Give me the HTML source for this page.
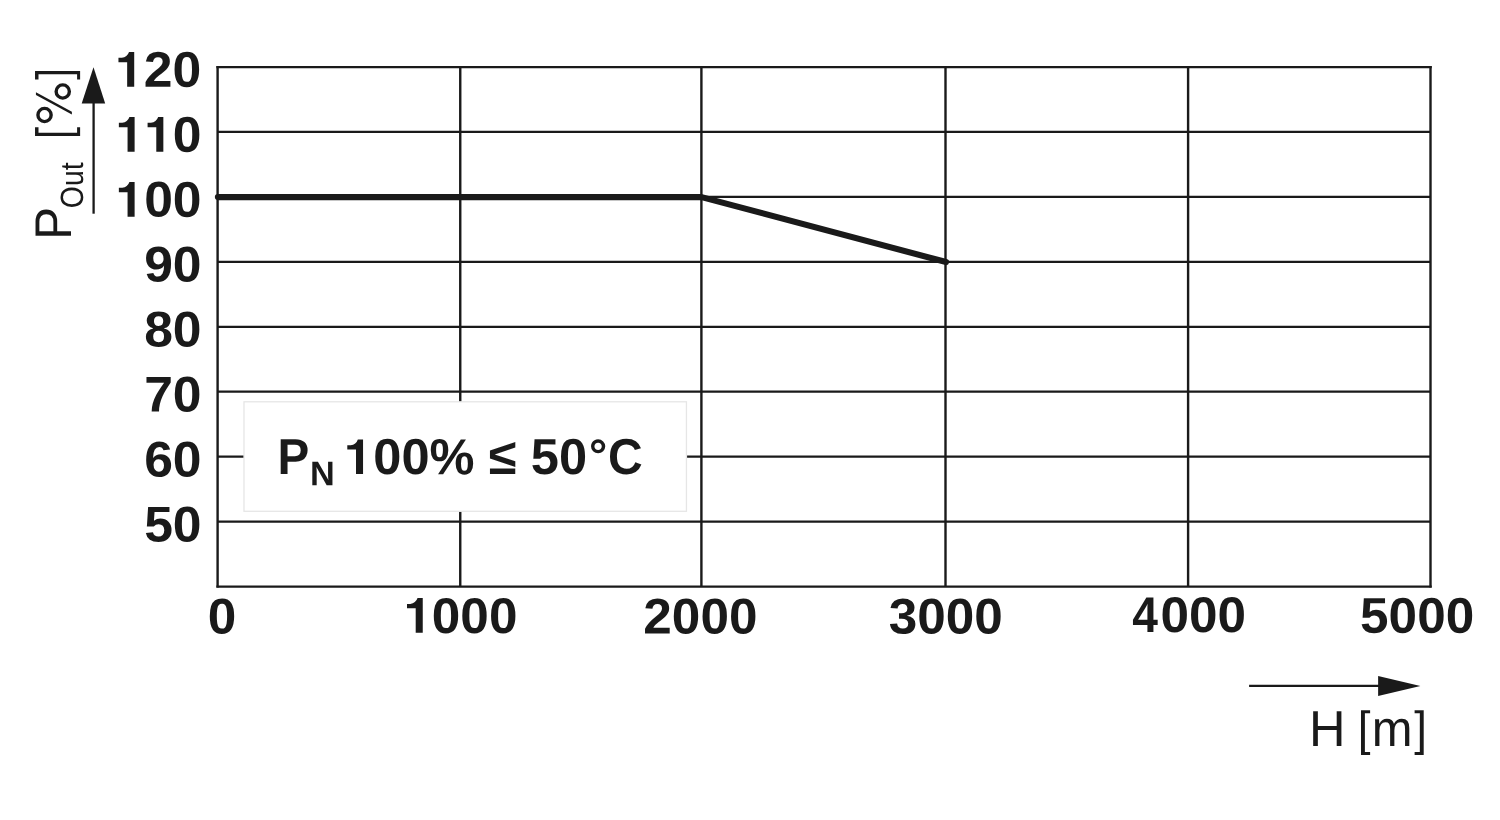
<!DOCTYPE html>
<html>
<head>
<meta charset="utf-8">
<title>Derating chart</title>
<style>
  html, body { margin: 0; padding: 0; background: #ffffff; }
  body { width: 1500px; height: 820px; overflow: hidden; }
  svg { display: block; filter: grayscale(100%); }
  text { font-family: "Liberation Sans", sans-serif; fill: #1a1a1a; text-rendering: geometricPrecision; }
  .b { font-weight: bold; }
  .r { font-weight: normal; font-size: 50.6px; }
</style>
</head>
<body>
<svg width="1500" height="820" viewBox="0 0 1500 820">
  <rect x="0" y="0" width="1500" height="820" fill="#ffffff"/>
  <defs>
    <path id="one" d="M19.2,-34.7 L19.2,0 L12.15,0 L12.15,-24.5 L3.45,-24.5 L3.45,-28.9 L6.8,-28.9 Q12.2,-29.4 14,-34.7 Z" fill="#1a1a1a"/>
  </defs>

  <!-- grid -->
  <g stroke="#1a1a1a" stroke-width="2.25" fill="none">
    <line x1="216.40" y1="67.05" x2="1431.70" y2="67.05"/>
    <line x1="217.60" y1="131.98" x2="1430.50" y2="131.98"/>
    <line x1="217.60" y1="196.91" x2="1430.50" y2="196.91"/>
    <line x1="217.60" y1="261.84" x2="1430.50" y2="261.84"/>
    <line x1="217.60" y1="326.78" x2="1430.50" y2="326.78"/>
    <line x1="217.60" y1="391.71" x2="1430.50" y2="391.71"/>
    <line x1="217.60" y1="456.64" x2="1430.50" y2="456.64"/>
    <line x1="217.60" y1="521.57" x2="1430.50" y2="521.57"/>
    <line x1="216.40" y1="586.50" x2="1431.70" y2="586.50"/>
  </g>
  <g stroke="#1a1a1a" stroke-width="2.4" fill="none">
    <line x1="217.60" y1="65.93" x2="217.60" y2="587.62"/>
    <line x1="460.25" y1="67.05" x2="460.25" y2="586.50"/>
    <line x1="701.40" y1="67.05" x2="701.40" y2="586.50"/>
    <line x1="945.50" y1="67.05" x2="945.50" y2="586.50"/>
    <line x1="1188.10" y1="67.05" x2="1188.10" y2="586.50"/>
    <line x1="1430.50" y1="65.93" x2="1430.50" y2="587.62"/>
  </g>

  <!-- data line -->
  <polyline points="217.90,197.11 701.60,197.11 946.10,262.04" fill="none" stroke="#1a1a1a" stroke-width="6.1" stroke-linecap="round" stroke-linejoin="round"/>

  <!-- inset box -->
  <rect x="244" y="401.8" width="442.45" height="109.5" fill="#ffffff" stroke="#e6e6e6" stroke-width="1.3"/>
  <g class="b" style="font-size:50.6px">
    <text transform="translate(277.50,474.10) matrix(1,0.0005,0,1,0,0) scale(0.9400,1.0000)">P</text>
    <text transform="translate(310.10,485.30) matrix(1,0.0005,0,1,0,0) scale(1.0000,1.0000)" style="font-size:34.3px">N</text>
    <use href="#one" x="343.85" y="474.10"/><text transform="translate(373.30,474.10) matrix(1,0.0005,0,1,0,0) scale(1.0000,1.0000)">00%</text>
    <text transform="translate(488.80,474.10) matrix(1,0.0005,0,1,0,0) scale(1.0000,1.0000)">≤</text>
    <text transform="translate(530.85,474.10) matrix(1,0.0005,0,1,0,0) scale(1.0000,1.0000)">50</text>
    <text transform="translate(588.90,470.60) matrix(1,0.0005,0,1,0,0) scale(0.9000,0.9000)">°</text>
    <text transform="translate(608.00,474.10) matrix(1,0.0005,0,1,0,0) scale(0.9500,1.0000)">C</text>
  </g>

  <!-- y labels -->
  <g class="b" text-anchor="end" style="font-size:50.2px">
    <use href="#one" x="115.01" y="86.70"/><text transform="translate(201.20,86.70) matrix(1,0.0005,0,1,0,0) scale(1.0291,1.0000)">20</text>
    <use href="#one" x="115.41" y="151.67"/><use href="#one" x="144.14" y="151.67"/><text transform="translate(201.60,151.67) matrix(1,0.0005,0,1,0,0) scale(1.0291,1.0000)">0</text>
    <use href="#one" x="115.41" y="216.64"/><text transform="translate(201.60,216.64) matrix(1,0.0005,0,1,0,0) scale(1.0291,1.0000)">00</text>
    <text transform="translate(201.60,281.61) matrix(1,0.0005,0,1,0,0) scale(1.0291,1.0000)">90</text>
    <text transform="translate(201.60,346.58) matrix(1,0.0005,0,1,0,0) scale(1.0291,1.0000)">80</text>
    <text transform="translate(201.60,411.55) matrix(1,0.0005,0,1,0,0) scale(1.0291,1.0000)">70</text>
    <text transform="translate(201.60,476.52) matrix(1,0.0005,0,1,0,0) scale(1.0291,1.0000)">60</text>
    <text transform="translate(201.60,541.49) matrix(1,0.0005,0,1,0,0) scale(1.0291,1.0000)">50</text>
  </g>

  <!-- x labels -->
  <g class="b" style="font-size:50.2px">
    <text transform="translate(207.85,633.53) matrix(1,0.0005,0,1,0,0) scale(1.0219,1.0000)">0</text>
    <use href="#one" x="403.55" y="632.80"/><text transform="translate(431.84,632.88) matrix(1,0.0005,0,1,0,0) scale(1.0219,1.0000)">000</text>
    <text transform="translate(643.34,633.53) matrix(1,0.0005,0,1,0,0) scale(1.0219,1.0000)">2000</text>
    <text transform="translate(888.75,633.53) matrix(1,0.0005,0,1,0,0) scale(1.0219,1.0000)">3000</text>
    <text transform="translate(1132.37,632.08) matrix(1,0.0005,0,1,0,0) scale(0.9200,1.0000)">4</text><text transform="translate(1160.44,632.08) matrix(1,0.0005,0,1,0,0) scale(1.0219,1.0000)">000</text>
    <text transform="translate(1360.09,632.70) matrix(1,0.0005,0,1,0,0) scale(1.0219,1.0000)">5000</text>
  </g>

  <!-- x axis arrow and title -->
  <line x1="1249.1" y1="685.95" x2="1385" y2="685.95" stroke="#1a1a1a" stroke-width="2.3"/>
  <polygon points="1378.1,675.9 1420.4,685.9 1378.1,695.9" fill="#1a1a1a"/>
  <g class="r">
    <text transform="translate(1308.95,745.90) matrix(1,0.0005,0,1,0,0) scale(1.0000,1.0000)">H</text>
    <text transform="translate(1357.84,745.30) matrix(1,0.0005,0,1,0,0) scale(0.9050,0.9500)">[</text>
    <text transform="translate(1371.85,745.90) matrix(1,0.0005,0,1,0,0) scale(0.9680,1.0000)">m</text>
    <text transform="translate(1414.24,745.30) matrix(1,0.0005,0,1,0,0) scale(0.9050,0.9500)">]</text>
  </g>

  <!-- y axis arrow and title -->
  <line x1="93.6" y1="213.7" x2="93.6" y2="100" stroke="#1a1a1a" stroke-width="2.3"/>
  <polygon points="81.7,103.6 93.5,67.3 105.2,103.6" fill="#1a1a1a"/>
  <g class="r" transform="translate(70.75,239.85) rotate(-90) scale(1,1.02)">
    <text transform="scale(0.97,1)">P</text>
    <text transform="translate(31.64,11.75) scale(0.955,1.06)" style="font-size:29.8px">Out</text>
  </g>
  <!-- [%] of the rotated axis title, drawn as shapes -->
  <g fill="#1a1a1a" stroke="none">
    <path d="M35.03,127.2 H38.5 V132.7 H77.1 V127.2 H80.12 V135.9 H35.03 Z"/>
    <path d="M35.03,79.6 H38.5 V74.15 H77.1 V79.6 H80.12 V70.95 H35.03 Z"/>
    <polygon points="35.95,92.2 35.95,94.95 71.9,114.4 71.9,111.65"/>
  </g>
  <circle cx="44.54" cy="115" r="6.6" fill="none" stroke="#1a1a1a" stroke-width="3.4"/>
  <circle cx="62.75" cy="91.5" r="6.6" fill="none" stroke="#1a1a1a" stroke-width="3.4"/>
</svg>
</body>
</html>
